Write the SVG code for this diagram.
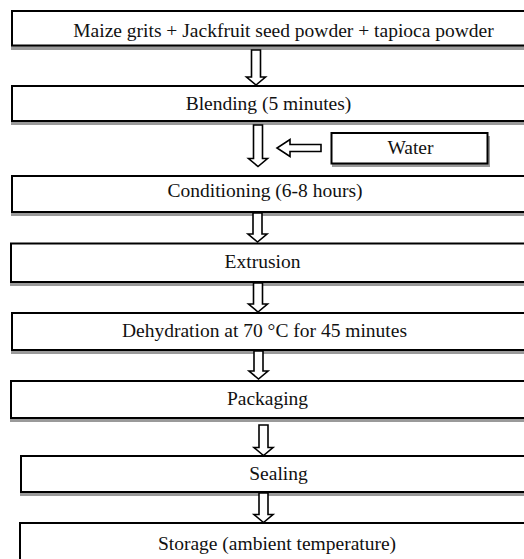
<svg xmlns="http://www.w3.org/2000/svg" width="524" height="559" viewBox="0 0 524 559">
<style>
.box{fill:#fff;stroke:#000;stroke-width:2}
.sh{fill:#9a9a9a}
.t{font-family:"Liberation Serif","Times New Roman",serif;font-size:19.5px;fill:#111;text-anchor:middle}
.arr{fill:#fff;stroke:#000;stroke-width:1.6;stroke-linejoin:miter}
</style>
<rect width="524" height="559" fill="#fff"/>
<g id="n1"><rect class="sh" x="11" y="15" width="530" height="35"/><rect class="box" x="12" y="11" width="530" height="34.5"/><text class="t" x="283.5" y="36.5">Maize grits + Jackfruit seed powder + tapioca powder</text></g>
<g id="n2"><rect class="sh" x="11" y="90" width="530" height="35"/><rect class="box" x="12" y="86" width="530" height="35"/><text class="t" x="268.5" y="109.5">Blending (5 minutes)</text></g>
<g id="water"><rect class="sh" x="332" y="136" width="158" height="31"/><rect class="box" x="331.5" y="133" width="156" height="30.5"/><text class="t" x="410.5" y="153.5">Water</text></g>
<g id="n3"><rect class="sh" x="11" y="180" width="530" height="36"/><rect class="box" x="12" y="176" width="530" height="36"/><text class="t" x="265" y="197">Conditioning (6-8 hours)</text></g>
<g id="n4"><rect class="sh" x="10" y="247" width="530" height="39"/><rect class="box" x="11" y="243.5" width="530" height="38.5"/><text class="t" x="262.5" y="268">Extrusion</text></g>
<g id="n5"><rect class="sh" x="11" y="317" width="530" height="37"/><rect class="box" x="12" y="313" width="530" height="37"/><text class="t" x="264.5" y="337">Dehydration at 70 °C for 45 minutes</text></g>
<g id="n6"><rect class="sh" x="10" y="385" width="530" height="37"/><rect class="box" x="11" y="381" width="530" height="37"/><text class="t" x="267.5" y="405">Packaging</text></g>
<g id="n7"><rect class="sh" x="20" y="460" width="530" height="36"/><rect class="box" x="21" y="456" width="530" height="36"/><text class="t" x="278.5" y="480">Sealing</text></g>
<g id="n8"><rect class="sh" x="19" y="527" width="530" height="45"/><rect class="box" x="20" y="523" width="530" height="45"/><text class="t" x="277" y="550">Storage (ambient temperature)</text></g>
<g id="connectors">
<path class="arr" d="M251.5 50 H260.5 V77 H265.5 L256 85 L246.5 77 H251.5 Z"/>
<path class="arr" d="M253.5 125 H262.5 V158.5 H267.5 L258 166.5 L248.5 158.5 H253.5 Z"/>
<path class="arr" d="M321 144.5 V151.5 H290 V156.5 L277 148 L290 139.5 V144.5 Z"/>
<path class="arr" d="M253 213 H262 V234 H267 L257.5 242 L248 234 H253 Z"/>
<path class="arr" d="M253.5 283 H262.5 V304 H267.5 L258 312 L248.5 304 H253.5 Z"/>
<path class="arr" d="M254 351 H263 V371 H268 L258.5 379 L249 371 H254 Z"/>
<path class="arr" d="M259 425 H268 V447.5 H273 L263.5 455.5 L254 447.5 H259 Z"/>
<path class="arr" d="M259 493 H268 V514.5 H273 L263.5 522.5 L254 514.5 H259 Z"/>
</g>
</svg>
